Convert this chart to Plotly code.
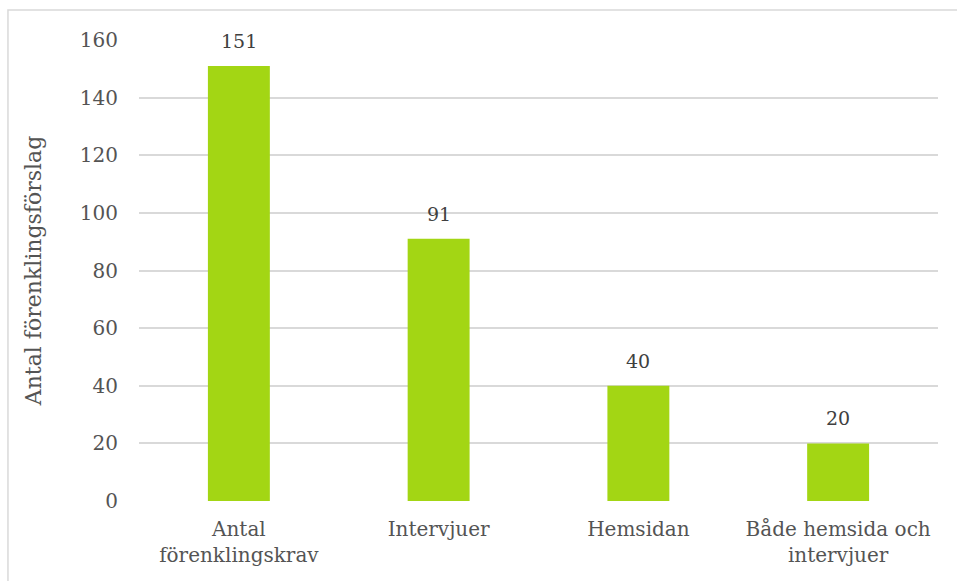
import plotly.graph_objects as go

categories = ["Antal<br>förenklingskrav", "Intervjuer", "Hemsidan", "Både hemsida och<br>intervjuer"]
values = [151, 91, 40, 20]
y_ticks = [0, 20, 40, 60, 80, 100, 120, 140, 160]

FONT = "DejaVu Serif"
BAR = "#A3D614"
GRID = "#D9D9D9"
TEXT = "#545454"

fig = go.Figure()
fig.add_trace(go.Bar(
    x=categories,
    y=values,
    marker=dict(color=BAR, line=dict(width=0)),
    width=0.31,
    hoverinfo="x+y",
))

# value labels above each bar
for c, v in zip(categories, values):
    fig.add_annotation(
        x=c, y=v, text=str(v), showarrow=False,
        yanchor="bottom", yshift=12,
        font=dict(family=FONT, size=19, color="#404040"),
    )

# light outer frame
fig.add_shape(type="rect", xref="paper", yref="paper",
              x0=-0.164, x1=1.1, y0=-0.5, y1=1.065,
              line=dict(color="#D9D9D9", width=1.5), layer="below")

fig.update_layout(
    width=957, height=581,
    margin=dict(l=139, r=19, t=40, b=80),
    paper_bgcolor="white",
    plot_bgcolor="white",
    showlegend=False,
    bargap=0.69,
    font=dict(family=FONT, color=TEXT),
    xaxis=dict(
        showgrid=False, showline=False, zeroline=False,
        tickfont=dict(family=FONT, size=20, color=TEXT),
        ticks="", ticklabelstandoff=14,
    ),
    yaxis=dict(
        range=[0, 160], tickvals=y_ticks,
        showgrid=True, gridcolor=GRID, gridwidth=1.5,
        zeroline=False, showline=False,
        ticks="", ticklabelstandoff=20,
        tickfont=dict(family=FONT, size=20, color=TEXT),
        title=dict(text="Antal förenklingsförslag",
                   font=dict(family=FONT, size=22, color=TEXT),
                   standoff=32),
    ),
)

fig.write_html("out.html")
